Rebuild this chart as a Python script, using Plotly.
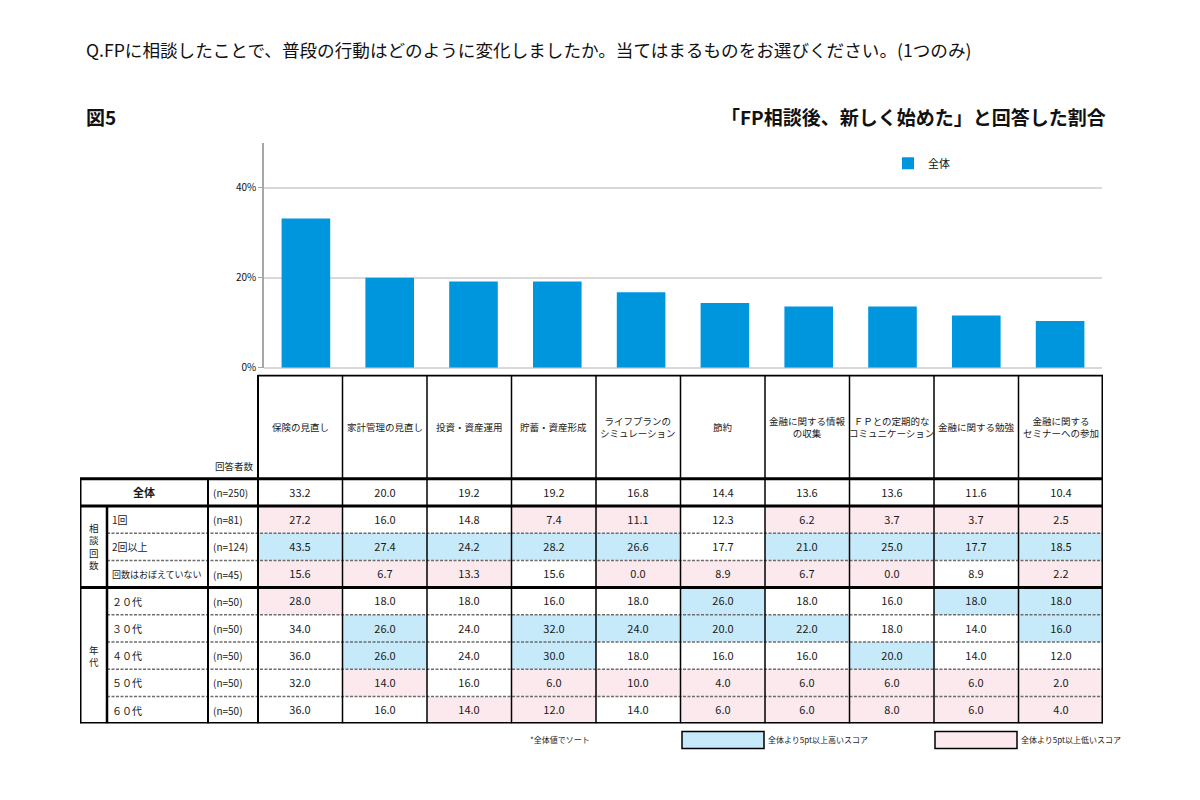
import plotly.graph_objects as go

# ---------------- data ----------------
categories = ["保険の見直し", "家計管理の見直し", "投資・資産運用", "貯蓄・資産形成",
              "ライフプランの<br>シミュレーション", "節約", "金融に関する情報<br>の収集",
              "ＦＰとの定期的な<br>コミュニケーション", "金融に関する勉強", "金融に関する<br>セミナーへの参加"]
overall = [33.2, 20.0, 19.2, 19.2, 16.8, 14.4, 13.6, 13.6, 11.6, 10.4]

row_labels = ["全体", "1回", "2回以上", "回数はおぼえていない",
              "２０代", "３０代", "４０代", "５０代", "６０代"]
row_n = ["(n=250)", "(n=81)", "(n=124)", "(n=45)",
         "(n=50)", "(n=50)", "(n=50)", "(n=50)", "(n=50)"]
once = [27.2, 16.0, 14.8, 7.4, 11.1, 12.3, 6.2, 3.7, 3.7, 2.5]
twice_plus = [43.5, 27.4, 24.2, 28.2, 26.6, 17.7, 21.0, 25.0, 17.7, 18.5]
not_remember = [15.6, 6.7, 13.3, 15.6, 0.0, 8.9, 6.7, 0.0, 8.9, 2.2]
age20 = [28.0, 18.0, 18.0, 16.0, 18.0, 26.0, 18.0, 16.0, 18.0, 18.0]
age30 = [34.0, 26.0, 24.0, 32.0, 24.0, 20.0, 22.0, 18.0, 14.0, 16.0]
age40 = [36.0, 26.0, 24.0, 30.0, 18.0, 16.0, 16.0, 20.0, 14.0, 12.0]
age50 = [32.0, 14.0, 16.0, 6.0, 10.0, 4.0, 6.0, 6.0, 6.0, 2.0]
age60 = [36.0, 16.0, 14.0, 12.0, 14.0, 6.0, 6.0, 8.0, 6.0, 4.0]
table_rows = [overall, once, twice_plus, not_remember, age20, age30, age40, age50, age60]
groups = [("相談回数", 1, 4), ("年代", 4, 9)]
y_ticks = [0, 20, 40]
y_tick_labels = ["0%", "20%", "40%"]
threshold = 5.0

# ---------------- style ----------------
FONT = "Noto Sans CJK JP"
BAR = "#0096DE"
BLUE = "#C7EAFA"
PINK = "#FBE9EE"
OFF = 8                      # page body margin
W, H = 1200 - OFF, 800 - OFF

def px(x):
    return (x - OFF) / W

def py(y):
    return 1 - (y - OFF) / H

fig = go.Figure()

# bar chart
fig.add_trace(go.Bar(x=list(range(len(categories))), y=overall, name="全体",
                     marker=dict(color=BAR, line=dict(width=0)),
                     hoverinfo="skip", xaxis="x", yaxis="y"))

# table cells (heatmap on its own axes)
ncol = len(categories)
nrow = len(table_rows)
codes, texts = [], []
for r, vals in enumerate(table_rows):
    crow, trow = [], []
    for c, v in enumerate(vals):
        d = v - overall[c]
        crow.append(1 if (r > 0 and d >= threshold) else (-1 if (r > 0 and d <= -threshold) else 0))
        trow.append(f"{v:.1f}")
    codes.append(crow)
    texts.append(trow)

fig.add_trace(go.Heatmap(
    z=codes, x=[c + 0.5 for c in range(ncol)], y=[r + 0.5 for r in range(nrow)],
    text=texts, texttemplate="%{text}",
    textfont=dict(family=FONT, size=11, color="#1a1a1a"),
    colorscale=[[0, PINK], [0.333, PINK], [0.333, "#FFFFFF"], [0.667, "#FFFFFF"],
                [0.667, BLUE], [1, BLUE]],
    zmin=-1, zmax=1, showscale=False, hoverinfo="skip", xgap=0, ygap=0,
    xaxis="x2", yaxis="y2"))

# table geometry in column/row units
col_w = (1103 - 258) / ncol
row_h = (730 - 483) / nrow
X_LEFT = -(258 - 80) / col_w
X_GRP = -(258 - 107) / col_w
X_N = -(258 - 208) / col_w
Y_HEAD = -(483 - 378) / row_h

shapes = []
def line(x0, y0, x1, y1, w=1.5, color="black", dash="solid"):
    shapes.append(dict(type="line", xref="x2", yref="y2", x0=x0, y0=y0, x1=x1, y1=y1,
                       line=dict(color=color, width=w, dash=dash)))

# dashed inner lines
for y in [2, 3, 5, 6, 7, 8]:
    line(X_GRP, y, ncol, y, 1.5, "#6e6e6e", "3px,1.5px")
# vertical separators in data area
for c in range(ncol + 1):
    w = 3 if c == ncol else (2 if c == 0 else 1.5)
    line(c, Y_HEAD, c, nrow, w)
line(X_LEFT, 0, X_LEFT, nrow, 3)
line(X_GRP, 1, X_GRP, nrow, 2.5)
line(X_N, 0, X_N, nrow, 2)
# thick horizontal lines
line(0, Y_HEAD, ncol, Y_HEAD, 3.5)
for y in [0, 1, 4, nrow]:
    line(X_LEFT, y, ncol, y, 3)

annotations = []
def ann(text, x, y, xanchor="center", size=10, xref="x2", yref="y2", bold=False,
        color="#1a1a1a", yanchor="middle"):
    annotations.append(dict(text=text, x=x, y=y, xref=xref, yref=yref, showarrow=False,
                            xanchor=xanchor, yanchor=yanchor,
                            font=dict(family=FONT, size=size, color=color,
                                      weight="bold" if bold else "normal")))

# header labels
for c, lab in enumerate(categories):
    ann(lab, c + 0.5, Y_HEAD / 2, size=9.5)
ann("回答者数", -0.02, -0.47, xanchor="right", size=9.5)
ann("(%)", ncol + 0.08, 0.3, xanchor="left", size=8)

# row labels
for r, (lab, n) in enumerate(zip(row_labels, row_n)):
    if r == 0:
        ann(lab, (X_LEFT + X_N) / 2, r + 0.5, size=11, bold=True)
    else:
        ann(lab, X_GRP + 0.03, r + 0.5, xanchor="left", size=9 if len(lab) > 6 else 10)
    ann(n, X_N + 0.03, r + 0.5, xanchor="left", size=10)
for name, r0, r1 in groups:
    ann("<br>".join(list(name)), (X_LEFT + X_GRP) / 2, (r0 + r1) / 2, size=9.5)

# titles
ann("Q.FPに相談したことで、普段の行動はどのように変化しましたか。当てはまるものをお選びください。(1つのみ)",
    px(84), py(50), xanchor="left", size=17.6, xref="paper", yref="paper", color="#111")
ann("図5", px(84), py(117), xanchor="left", size=19, xref="paper", yref="paper", bold=True, color="#111")
ann("「FP相談後、新しく始めた」と回答した割合", px(1108), py(117), xanchor="right", size=19,
    xref="paper", yref="paper", bold=True, color="#111")

# footnotes
ann("*全体値でソート", px(528), py(746), xanchor="left", size=8, xref="paper", yref="paper")
for x0, fill, txt in [(682, BLUE, "全体より5pt以上高いスコア"), (935, PINK, "全体より5pt以上低いスコア")]:
    shapes.append(dict(type="rect", xref="paper", yref="paper", x0=px(x0), x1=px(x0 + 82),
                       y0=py(755), y1=py(738), fillcolor=fill, line=dict(color="black", width=1.5)))
    ann(txt, px(x0 + 84), py(746), xanchor="left", size=8, xref="paper", yref="paper")

fig.update_layout(
    width=W, height=H, margin=dict(l=0, r=0, t=0, b=0),
    paper_bgcolor="white", plot_bgcolor="rgba(0,0,0,0)",
    bargap=0.42, showlegend=True,
    legend=dict(x=px(888), y=py(150), xanchor="left", yanchor="top", bgcolor="rgba(0,0,0,0)",
                font=dict(family=FONT, size=11, color="#111"), itemwidth=30),
    xaxis=dict(domain=[px(264), px(1102)], range=[-0.5, ncol - 0.5], showticklabels=False,
               showgrid=False, zeroline=False, showline=False, ticks="", fixedrange=True),
    yaxis=dict(domain=[py(371), py(144)], range=[0, 50], tickmode="array",
               tickvals=y_ticks, ticktext=y_tick_labels,
               showgrid=True, gridcolor="#D9D9D9", gridwidth=1.5,
               zeroline=True, zerolinecolor="#D9D9D9", zerolinewidth=1.5,
               showline=True, linecolor="#A6A6A6", linewidth=1.5,
               ticks="outside", ticklen=4, tickcolor="#A6A6A6",
               tickfont=dict(family=FONT, size=10, color="#111"), fixedrange=True),
    xaxis2=dict(domain=[px(80), px(1103)], range=[X_LEFT, ncol], visible=False, fixedrange=True),
    yaxis2=dict(domain=[py(730), py(378)], range=[nrow, Y_HEAD], visible=False, fixedrange=True),
    shapes=shapes, annotations=annotations,
)

fig.write_html("out.html")
